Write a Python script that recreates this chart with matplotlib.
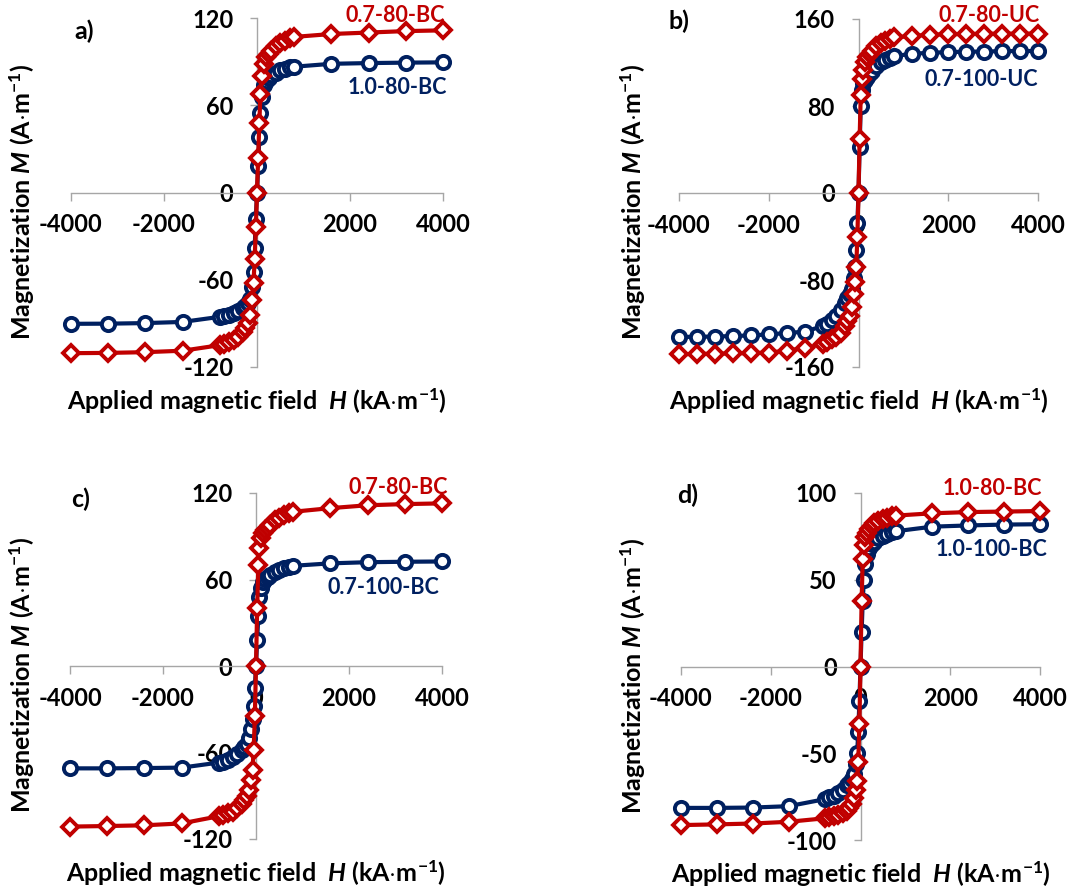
import matplotlib
matplotlib.use("Agg")
import matplotlib.pyplot as plt

plt.rcParams['font.family'] = ['Lato', 'DejaVu Sans']
plt.rcParams['font.weight'] = 'bold'
plt.rcParams['axes.unicode_minus'] = False
plt.rcParams['mathtext.fontset'] = 'custom'
plt.rcParams['mathtext.rm'] = 'Lato:bold'
plt.rcParams['mathtext.it'] = 'Lato:italic:bold'
plt.rcParams['mathtext.bf'] = 'Lato:bold'

RED = '#C00000'
BLUE = '#002060'
GRAY = '#A6A6A6'

# applied field H (kA/m)
H_8 = [-4000, -3200, -2400, -1600,
       -800, -700, -600, -500, -400, -300, -250, -200, -150, -100, -75, -50, -25,
       0,
       25, 50, 75, 100, 150, 200, 250, 300, 400, 500, 600, 700, 800,
       1600, 2400, 3200, 4000]
H_4 = [-4000, -3600, -3200, -2800, -2400, -2000, -1600, -1200,
       -800, -700, -600, -500, -400, -300, -250, -200, -150, -100, -75, -50, -25,
       0,
       25, 50, 75, 100, 150, 200, 250, 300, 400, 500, 600, 700, 800,
       1200, 1600, 2000, 2400, 2800, 3200, 3600, 4000]

# a)
m_a_blue = [-90.3, -90.2, -89.8, -89.0,
            -85.5, -85.0, -84.0, -83.0, -81.5, -79.5, -78.0, -76.0, -73.0, -65.0, -55.0, -38.0, -18.0,
            0,
            18, 38, 55, 66, 74, 77, 79, 80.5, 82.5, 84, 85, 86, 86.5,
            88.5, 89, 89.3, 89.5]
m_a_red = [-110.5, -110.3, -109.8, -108.8,
           -105, -104, -103, -101.5, -99.5, -96, -93.5, -90, -84, -74, -62, -46, -24,
           0,
           24, 48, 68, 80, 88.5, 93, 95.5, 97.5, 101, 103, 104.5, 106, 107,
           109, 110, 111, 111.5]

# b)
m_b_blue = [-132.4, -132.2, -132, -131.5, -131, -130, -128.8, -127.5,
            -122.5, -120, -117, -113, -108, -101, -97, -93, -88, -78, -68, -52, -28,
            0,
            42, 80, 95, 101, 104, 107, 110, 112.5, 117, 120, 122.5, 124.5, 126,
            128, 129, 129.5, 130, 130, 130.5, 130.5, 130.6]
m_b_red = [-148.3, -148, -147.8, -147.5, -147.2, -146.8, -145, -142.5,
           -139, -137, -134.5, -132, -128.5, -122, -118, -113, -105, -93, -82, -68, -40,
           0,
           50, 90, 105, 113, 120, 125, 128, 131, 135, 138, 140, 141.5, 143,
           144.5, 145.5, 146, 146.2, 146.4, 146.5, 146.5, 146.6]

# c)
m_c_blue = [-71, -71, -70.8, -70.5,
            -67, -66.3, -65, -63, -61, -58, -56, -54, -50, -44, -37, -28, -15,
            0,
            18, 35, 48, 54, 58.5, 60.5, 62, 63, 65, 66.5, 68, 69, 69.5,
            71.2, 72, 72.3, 72.5]
m_c_red = [-111.4, -111, -110.5, -109.2,
           -104.2, -103.3, -102.3, -101, -98.5, -95.5, -93, -90, -86, -79, -72, -58, -35,
           0,
           40, 70, 82, 89, 92, 94, 96, 98, 101, 103, 105, 106, 107,
           109.5, 111.5, 112.3, 112.8]

# d)
m_d_blue = [-81.5, -81.5, -81.3, -80.5,
            -76.5, -75.5, -74.5, -73, -71, -68.5, -67, -65, -62, -56, -50, -38, -20,
            0,
            20, 38, 50, 59, 65, 68.5, 70.5, 72, 74, 75.5, 76.5, 77.5, 78,
            80.6, 81.3, 81.8, 82]
m_d_red = [-91.4, -91, -90.5, -89.5,
           -87.5, -87, -86.3, -85.5, -84.5, -83, -81.5, -79, -76, -71, -66, -55, -33,
           0,
           38, 62, 70, 74.5, 77, 79.5, 81, 82.5, 84, 85, 85.8, 86.5, 87,
           88.3, 89, 89.3, 89.6]

W, HGT = 1088, 890


def px(x, y):
    return x / W, 1 - y / HGT


def plot_panel(rect, H, m_blue, m_red, ymax, ylab_x):
    # rect in pixels: left, top, right, bottom
    l, t, r, b = rect
    ax = fig.add_axes([l / W, 1 - b / HGT, (r - l) / W, (b - t) / HGT])
    ax.plot(H, m_blue, color=BLUE, lw=3, marker='o', ms=9.5, mfc='white', mec=BLUE,
            mew=2.8, clip_on=False, zorder=3)
    ax.plot(H, m_red, color=RED, lw=3, marker='D', ms=8, mfc='white', mec=RED,
            mew=2.8, clip_on=False, zorder=4)
    ax.set_xlim(-4000, 4000)
    ax.set_ylim(-ymax, ymax)
    ax.set_xticks([-4000, -2000, 0, 2000, 4000])
    yt = [-ymax, -ymax // 2, 0, ymax // 2, ymax]
    ax.set_yticks(yt)
    ax.set_yticklabels([str(v) for v in yt])
    for s in ['top', 'right']:
        ax.spines[s].set_visible(False)
    ax.spines['left'].set_position(('data', 0))
    ax.spines['bottom'].set_position(('data', 0))
    for s in ['left', 'bottom']:
        ax.spines[s].set_color(GRAY)
        ax.spines[s].set_linewidth(1.0)
    ax.tick_params(axis='x', length=6, width=1.0, color=GRAY, pad=9, labelsize=17)
    ax.tick_params(axis='y', length=5, width=1.0, color=GRAY, pad=12, labelsize=17)
    ax.patch.set_alpha(0)

    ax.text(0.5, -34 / (b - t), r'Applied magnetic field  $\mathit{H}$ (kA$\cdot$m$^{-1}$)',
            transform=ax.transAxes, ha='center', va='center', fontsize=18)
    ax.text(-(l - ylab_x) / (r - l), 0.5 - 9 / (b - t),
            r'Magnetization $\mathit{M}$ (A$\cdot$m$^{-1}$)', transform=ax.transAxes,
            rotation=90, ha='center', va='center', fontsize=18)
    return ax


fig = plt.figure(figsize=(10.88, 8.90), dpi=100)

plot_panel((71, 18, 443, 367), H_8, m_a_blue, m_a_red, 120, 22)
plot_panel((679, 19, 1038, 367), H_4, m_b_blue, m_b_red, 160, 633)
plot_panel((70, 493, 442, 839), H_8, m_c_blue, m_c_red, 120, 22)
plot_panel((681, 493, 1040, 840), H_8, m_d_blue, m_d_red, 100, 633)

# panel letters
for x, y, s in [(84, 31, 'a)'), (679, 21, 'b)'), (81, 499, 'c)'), (688, 495, 'd)')]:
    fig.text(*px(x, y), s, ha='center', va='center', fontsize=18)

# series labels
labels = [(445, 15, '0.7-80-BC', RED), (447, 88, '1.0-80-BC', BLUE),
          (1040, 15, '0.7-80-UC', RED), (1038, 80, '0.7-100-UC', BLUE),
          (448, 488, '0.7-80-BC', RED), (439, 588, '0.7-100-BC', BLUE),
          (1042, 489, '1.0-80-BC', RED), (1047, 550, '1.0-100-BC', BLUE)]
for x, y, s, c in labels:
    fig.text(*px(x, y), s, ha='right', va='center', fontsize=15.5, color=c)

plt.savefig("out.png", dpi=100)
